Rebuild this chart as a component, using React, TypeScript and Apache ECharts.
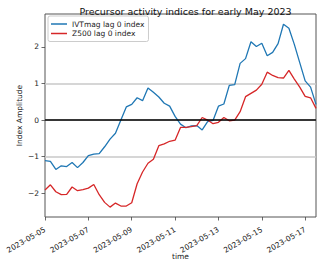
import React, { useEffect, useRef } from "react";
import * as echarts from "echarts";

const titleText = "Precursor activity indices for early May 2023";
const xAxisName = "time";
const yAxisName = "Index Amplitude";
const seriesNames = ["IVTmag lag 0 index", "Z500 lag 0 index"];
const seriesColors = ["#1f77b4", "#d62728"];

const startTime = Date.UTC(2023, 4, 5, 0);
const endTime = Date.UTC(2023, 4, 17, 12);
const stepHours = 6;

const xTickDates = [
  "2023-05-05",
  "2023-05-07",
  "2023-05-09",
  "2023-05-11",
  "2023-05-13",
  "2023-05-15",
  "2023-05-17",
];
const yTicks = [-2, -1, 0, 1, 2];
const yMin = -2.65;
const yMax = 2.9;

const ivtValues = [
  -1.11, -1.13, -1.35, -1.25, -1.27, -1.16, -1.3, -1.16, -0.97, -0.93,
  -0.92, -0.73, -0.52, -0.36, 0.0, 0.36, 0.43, 0.61, 0.53, 0.88,
  0.76, 0.63, 0.46, 0.38, 0.1, -0.11, -0.21, -0.16, -0.15, -0.27,
  -0.04, -0.01, 0.38, 0.44, 0.95, 0.97, 1.55, 1.68, 2.14, 2.01,
  2.1, 1.76, 1.85, 2.09, 2.62, 2.51, 2.07, 1.57, 1.07, 0.9,
  0.43,
];

const z500Values = [
  -1.91, -1.77, -1.96, -2.04, -2.03, -1.83, -1.93, -1.9, -1.86, -1.76,
  -2.04, -2.25, -2.38, -2.27, -2.35, -2.35, -2.26, -1.74, -1.42, -1.18,
  -1.07, -0.7, -0.65, -0.58, -0.55, -0.2, -0.2, -0.18, -0.15, 0.07,
  0.0, -0.1, -0.06, 0.07, -0.02, 0.0, 0.23, 0.64, 0.73, 0.82,
  0.98, 1.31, 1.22, 1.16, 1.15, 1.36, 1.12, 0.9, 0.65, 0.61,
  0.32,
];

const FONT = "DejaVu Sans";

function toPairs(values: number[]) {
  return values.map((v, i) => [startTime + i * stepHours * 3600000, v]);
}

function fmtDate(v: number) {
  return new Date(v).toISOString().slice(0, 10);
}

export default function App() {
  const ref = useRef<HTMLDivElement>(null);

  useEffect(() => {
    if (!ref.current) return;
    const chart = echarts.init(ref.current, null, { renderer: "svg" });
    const xTickValues = xTickDates.map((d) => Date.parse(d + "T00:00:00Z"));

    chart.setOption({
      animation: false,
      backgroundColor: "#ffffff",
      textStyle: { fontFamily: FONT },
      title: {
        text: titleText,
        left: 180.5,
        top: 1,
        textAlign: "center",
        textStyle: {
          fontFamily: FONT,
          fontSize: 9.5,
          fontWeight: "normal",
          color: "#111",
        },
      },
      grid: {
        left: 45,
        right: 4,
        top: 14,
        bottom: 46,
        containLabel: false,
        outerBoundsMode: "none",
        show: true,
        borderColor: "#555",
        borderWidth: 1,
        backgroundColor: "transparent",
      },
      legend: {
        orient: "vertical",
        left: 48,
        top: 16,
        padding: [4, 4, 4, 3],
        itemGap: 1.5,
        itemWidth: 16,
        itemHeight: 1.5,
        icon: "rect",
        backgroundColor: "rgba(255,255,255,0.85)",
        borderColor: "#cccccc",
        borderWidth: 1,
        borderRadius: 2,
        textStyle: { fontFamily: FONT, fontSize: 7.5, color: "#222" },
        data: seriesNames,
      },
      xAxis: {
        type: "value",
        min: startTime,
        max: endTime,
        name: xAxisName,
        nameLocation: "middle",
        nameGap: 35,
        nameMoveOverlap: false,
        nameTextStyle: { fontFamily: FONT, fontSize: 7.5, color: "#222" },
        axisLine: { show: false, onZero: false },
        axisTick: {
          show: true,
          length: 3.5,
          lineStyle: { color: "#444", width: 0.8 },
          customValues: xTickValues,
        },
        axisLabel: {
          rotate: 30,
          margin: 12,
          fontFamily: FONT,
          fontSize: 7.5,
          color: "#222",
          customValues: xTickValues,
          formatter: (v: number) => fmtDate(v),
        },
        splitLine: { show: false },
      },
      yAxis: {
        type: "value",
        min: yMin,
        max: yMax,
        name: yAxisName,
        nameLocation: "middle",
        nameGap: 22,
        nameMoveOverlap: false,
        nameTextStyle: { fontFamily: FONT, fontSize: 7.5, color: "#222" },
        axisLine: { show: false },
        axisTick: {
          show: true,
          length: 3.5,
          lineStyle: { color: "#444", width: 0.8 },
          customValues: yTicks,
        },
        axisLabel: {
          margin: 6,
          fontFamily: FONT,
          fontSize: 7.5,
          color: "#222",
          customValues: yTicks,
          formatter: (v: number) => (v < 0 ? "\u2212" + Math.abs(v) : String(v)),
        },
        splitLine: {
          show: true,
          showMinLine: false,
          showMaxLine: false,
          lineStyle: { color: "#c8c8c8", width: 1.5 },
        },
      },
      series: [
        {
          type: "line",
          name: seriesNames[0],
          data: toPairs(ivtValues),
          symbol: "none",
          showSymbol: false,
          lineStyle: { color: seriesColors[0], width: 1.3 },
          itemStyle: { color: seriesColors[0] },
          markLine: {
            silent: true,
            symbol: "none",
            label: { show: false },
            lineStyle: { color: "#000", width: 1.5, type: "solid" },
            data: [{ yAxis: 0 }],
          },
        },
        {
          type: "line",
          name: seriesNames[1],
          data: toPairs(z500Values),
          symbol: "none",
          showSymbol: false,
          lineStyle: { color: seriesColors[1], width: 1.3 },
          itemStyle: { color: seriesColors[1] },
        },
      ],
    });

    return () => chart.dispose();
  }, []);

  return (
    <div
      ref={ref}
      style={{ position: "fixed", left: 0, top: 0, width: 320, height: 263 }}
    />
  );
}
